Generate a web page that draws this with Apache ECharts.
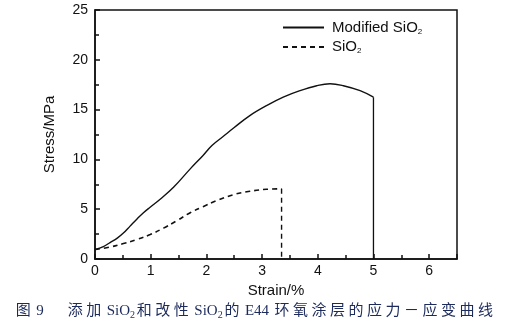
<!DOCTYPE html>
<html>
<head>
<meta charset="utf-8">
<style>
  html, body { margin: 0; padding: 0; background: #fff; }
  #chart { width: 509px; height: 331px; }
</style>
<script src="https://cdn.jsdelivr.net/npm/echarts@6/dist/echarts.min.js"></script>
</head>
<body>
<div id="chart"></div>
<script>
// Stress–strain curves of E44 epoxy coatings
var strainModified = [0, 0.15, 0.27, 0.4, 0.51, 0.63, 0.75, 0.87, 0.99, 1.17, 1.41, 1.71, 1.94, 2.1, 2.3, 2.5, 2.78, 3.08, 3.38, 3.68, 3.98, 4.22, 4.46, 4.76, 5.0];
var stressModified = [0.95, 1.25, 1.65, 2.1, 2.6, 3.3, 4.0, 4.65, 5.2, 6.0, 7.2, 9.05, 10.4, 11.4, 12.3, 13.2, 14.4, 15.4, 16.25, 16.9, 17.4, 17.6, 17.4, 16.9, 16.25];

var strainPlain = [0, 0.27, 0.51, 0.75, 0.99, 1.23, 1.47, 1.71, 1.94, 2.18, 2.48, 2.78, 3.08, 3.35];
var stressPlain = [0.95, 1.2, 1.55, 1.95, 2.45, 3.1, 3.85, 4.65, 5.25, 5.85, 6.45, 6.8, 7.0, 7.05];

// strain at fracture (vertical drop to zero)
var breakModified = 5.0;
var breakPlain = 3.35;

var xTicks = [0, 1, 2, 3, 4, 5, 6];
var yTicks = [0, 5, 10, 15, 20, 25];

var caption = '图 9　 添加 SiO₂和改性 SiO₂的 E44 环氧涂层的应力－应变曲线';

function zip(xs, ys) {
  return xs.map(function (x, i) { return [x, ys[i]]; });
}

// turn the caption into rich-text tokens: subscripts and spaced CJK glyphs
function captionRich(s) {
  var out = '';
  for (var i = 0; i < s.length; i++) {
    var ch = s[i];
    if (ch === '₂') out += '{sub|2}';
    else if (/[\u3000-\u9fff\uff00-\uffef]/.test(ch)) out += '{c|' + ch + '}';
    else out += '{l|' + ch + '}';
  }
  return out;
}

var nameModified = 'Modified SiO{sub|2}';
var namePlain = 'SiO{sub|2}';
var ink = '#111';
var capInk = '#1c2a5c';
var sans = '"Liberation Sans", Arial, sans-serif';
var serif = '"Liberation Serif", "Noto Sans CJK SC", serif';

var chart = echarts.init(document.getElementById('chart'));
chart.setOption({
  backgroundColor: '#fff',
  animation: false,
  title: {
    text: captionRich(caption),
    left: 14,
    top: 302,
    padding: 0,
    textStyle: {
      fontFamily: serif,
      fontSize: 15,
      fontWeight: 'normal',
      color: capInk,
      rich: {
        c: { fontFamily: serif, fontSize: 15, color: capInk, padding: [0, 1.75, 0, 1.75] },
        l: { fontFamily: serif, fontSize: 15, color: capInk },
        sub: { fontFamily: serif, fontSize: 10, color: capInk, verticalAlign: 'bottom', padding: [8, 0, 0, 0] }
      }
    }
  },
  legend: {
    orient: 'vertical',
    left: 282,
    top: 20,
    padding: 0,
    itemWidth: 41,
    itemHeight: 10,
    itemGap: 4,
    itemStyle: { opacity: 0 },
    data: [nameModified, namePlain],
    textStyle: {
      fontFamily: sans,
      fontSize: 15,
      color: ink,
      padding: [0, 0, 0, 3],
      rich: {
        sub: { fontFamily: sans, fontSize: 8, color: ink, verticalAlign: 'bottom', padding: [8, 0, 0, 0] }
      }
    }
  },
  grid: {
    left: 95, right: 52, top: 10, bottom: 72,
    show: true,
    borderColor: ink,
    borderWidth: 1.5,
    backgroundColor: 'transparent'
  },
  xAxis: {
    type: 'value',
    min: 0,
    max: 6.5,
    interval: 1,
    name: 'Strain/%',
    nameLocation: 'middle',
    nameGap: 20,
    nameTextStyle: { fontFamily: sans, fontSize: 15, color: ink },
    axisLine: { show: true, lineStyle: { color: ink, width: 1.5 } },
    axisTick: { show: true, inside: true, length: 5, lineStyle: { color: ink, width: 1.5 } },
    minorTick: { show: true, splitNumber: 2, length: 4, lineStyle: { color: ink, width: 1.5 } },
    splitLine: { show: false },
    axisLabel: {
      margin: 5,
      fontFamily: sans,
      fontSize: 14,
      color: ink,
      formatter: function (v) { return xTicks.indexOf(v) >= 0 ? String(v) : ''; }
    }
  },
  yAxis: {
    type: 'value',
    min: 0,
    max: 25,
    interval: 5,
    name: 'Stress/MPa',
    nameLocation: 'middle',
    nameGap: 38,
    nameTextStyle: { fontFamily: sans, fontSize: 15, color: ink },
    axisLine: { show: true, lineStyle: { color: ink, width: 1.5 } },
    axisTick: { show: true, inside: true, length: 5, lineStyle: { color: ink, width: 1.5 } },
    minorTick: { show: true, splitNumber: 2, length: 4, lineStyle: { color: ink, width: 1.5 } },
    splitLine: { show: false },
    axisLabel: {
      margin: 7,
      fontFamily: sans,
      fontSize: 14,
      color: ink,
      formatter: function (v) { return yTicks.indexOf(v) >= 0 ? String(v) : ''; }
    }
  },
  series: [
    {
      name: nameModified,
      type: 'line',
      data: zip(strainModified, stressModified),
      smooth: 0.4,
      symbol: 'none',
      lineStyle: { color: ink, width: 1.4, type: 'solid' },
      itemStyle: { color: ink }
    },
    {
      name: nameModified,
      type: 'line',
      data: [[breakModified, stressModified[stressModified.length - 1]], [breakModified, 0]],
      symbol: 'none',
      lineStyle: { color: ink, width: 1.3, type: 'solid' },
      itemStyle: { color: ink }
    },
    {
      name: namePlain,
      type: 'line',
      data: zip(strainPlain, stressPlain),
      smooth: 0.4,
      symbol: 'none',
      lineStyle: { color: ink, width: 1.6, type: [5, 4] },
      itemStyle: { color: ink }
    },
    {
      name: namePlain,
      type: 'line',
      data: [[breakPlain, stressPlain[stressPlain.length - 1]], [breakPlain, 0]],
      symbol: 'none',
      lineStyle: { color: ink, width: 1.4, type: [5, 4] },
      itemStyle: { color: ink }
    }
  ]
});
</script>
</body>
</html>
